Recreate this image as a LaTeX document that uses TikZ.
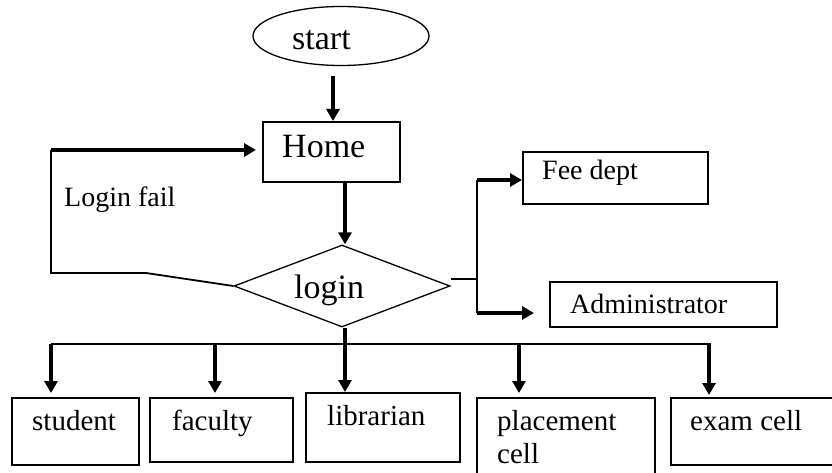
\documentclass[tikz,border=0pt]{standalone}
\usepackage{fontspec}
\setmainfont{Liberation Serif}
\usetikzlibrary{shapes.geometric,arrows.meta}
\begin{document}
\begin{tikzpicture}[x=1pt,y=-1pt,
  box/.style={draw, line width=2pt, inner sep=0pt},
  shp/.style={draw, line width=1.3pt, inner sep=0pt},
  arr/.style={line width=3.4pt, -{Triangle[length=12pt,width=13pt]}},
  ln/.style={line width=1.8pt},
  big/.style={font=\fontsize{34}{40}\selectfont, inner sep=0pt, anchor=base west},
  sm/.style={font=\fontsize{28}{33}\selectfont, inner sep=0pt, anchor=base west},
  bot/.style={font=\fontsize{29}{34}\selectfont, inner sep=0pt, anchor=base west}]
\useasboundingbox (0,0) rectangle (832,473);
\clip (0,0) rectangle (832,473);

% shapes
\node[shp, ellipse, minimum width=176pt, minimum height=59pt] (start) at (341,36) {};
\node[box, minimum width=137pt, minimum height=60pt] (home) at (331.5,152) {};
\node[shp, diamond, minimum width=216pt, minimum height=82pt] (login) at (342,286) {};
\node[box, minimum width=185pt, minimum height=52pt] (fee) at (615.5,178) {};
\node[box, minimum width=227pt, minimum height=45pt] (admin) at (663.5,304.5) {};
\node[box, minimum width=127pt, minimum height=67pt] (student) at (75.5,431.5) {};
\node[box, minimum width=143pt, minimum height=64pt] (faculty) at (221.5,430) {};
\node[box, minimum width=154pt, minimum height=69pt] (librarian) at (383,427.5) {};
\node[box, minimum width=178pt, minimum height=102pt] (placement) at (566,449) {};
\node[box, minimum width=179pt, minimum height=67pt] (exam) at (760.5,431.5) {};

% texts
\node[big] (tstart) at (292,50) {start};
\node[big] (thome) at (282,158) {Home};
\node[big] (tlogin) at (294,298) {login};
\node[sm] (tfail) at (64,207) {Login fail};
\node[sm] (tfee) at (542,180) {Fee dept};
\node[sm] (tadmin) at (570,313) {Administrator};
\node[bot] (tstudent) at (32,430) {student};
\node[bot] (tfaculty) at (172,430) {faculty};
\node[bot] (tlib) at (327,425) {librarian};
\node[bot] (tplace) at (497,430) {placement};
\node[bot] (tcell) at (497,463) {cell};
\node[bot] (texam) at (690,430) {exam cell};

% connectors
\coordinate (s1) at (333,76);
\draw[arr] (s1) -- (s1 |- home.north);
\coordinate (h1) at (345,182);
\draw[arr] (h1) -- (h1 |- login.north);

\coordinate (lf1) at (146,273);
\coordinate (lf2) at (51,273);
\coordinate (lf3) at (51,150);
\draw[ln] (login.west) -- (lf1) -- (lf2) -- (lf3);
\draw[arr, shorten >=6pt] (lf3) -- (home.west |- lf3);

\coordinate (r0) at (477,279);
\coordinate (rf) at (477,180);
\coordinate (ra) at (477,313);
\draw[ln] ([yshift=7pt]login.east) -- (r0);
\draw[ln] (rf) -- (ra);
\draw[arr] (rf) -- (fee.west |- rf);
\draw[arr, shorten >=15pt] (ra) -- (admin.west |- ra);

\coordinate (bL) at (51,344);
\coordinate (bR) at (711,344);
\coordinate (bf) at (215,344);
\coordinate (bc) at (345,344);
\coordinate (bp) at (519,344);
\coordinate (be) at (709,344);
\draw[ln] (bL) -- (bR);
\draw[arr, shorten >=4pt] (bL) -- (bL |- student.north);
\draw[arr, shorten >=4pt] (bf) -- (bf |- faculty.north);
\draw[arr] (bc |- login.south) -- (bc |- librarian.north);
\draw[arr, shorten >=4pt] (bp) -- (bp |- placement.north);
\draw[arr, shorten >=2pt] (be) -- (be |- exam.north);
\end{tikzpicture}
\end{document}
